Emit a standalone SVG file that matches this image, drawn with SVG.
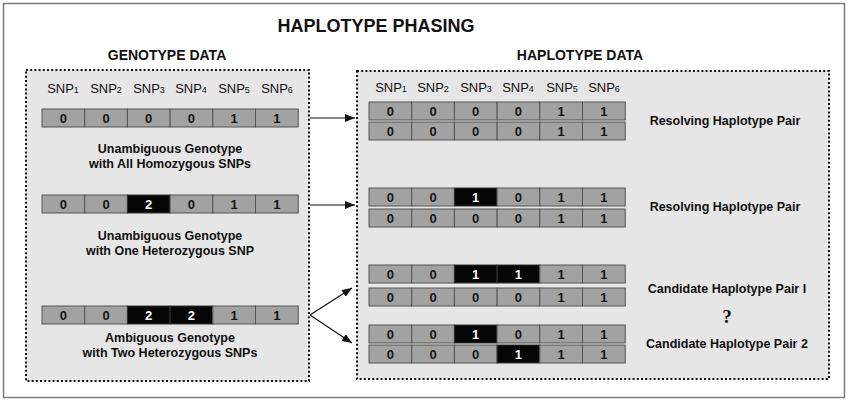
<svg xmlns="http://www.w3.org/2000/svg" width="850" height="401" viewBox="0 0 850 401">
<defs>
<style>
text{font-family:"Liberation Sans",Arial,sans-serif;fill:#111}
.title{font-size:18px;font-weight:bold;text-anchor:middle}
.head{font-size:14px;font-weight:bold;text-anchor:middle}
.snp{font-size:13px;text-anchor:middle}
.snp tspan{font-size:9px}
.lbl{font-size:12.5px;font-weight:bold;text-anchor:middle}
.panel{fill:#e6e6e6;stroke:#111;stroke-width:2;stroke-dasharray:2 2.2}
.c{fill:#a2a2a2;stroke:#555;stroke-width:1}
.k{fill:#050505;stroke:#333;stroke-width:1}
.v{font-size:13px;font-weight:bold;text-anchor:middle;fill:#151515}
.w{font-size:13px;font-weight:bold;text-anchor:middle;fill:#fff}
.q{font-family:"Liberation Serif","Times New Roman",serif;font-size:19px;font-weight:bold;text-anchor:middle}
.conn{stroke:#111;stroke-width:1.2;fill:none;marker-end:url(#ah)}
</style>
<marker id="ah" viewBox="0 0 10 8" refX="10" refY="4" markerWidth="10" markerHeight="8" markerUnits="userSpaceOnUse" orient="auto">
<path d="M0,0 L10,4 L0,8 Z" fill="#111"/>
</marker>
</defs>
<rect x="0" y="0" width="850" height="401" fill="#fff"/>
<rect id="frame" x="3.5" y="3.5" width="841" height="394" fill="#fff" stroke="#7a7a7a" stroke-width="1.5"/>
<text class="title" x="376" y="32">HAPLOTYPE PHASING</text>

<g id="genotype-panel">
<text class="head" x="167" y="60">GENOTYPE DATA</text>
<rect class="panel" x="26" y="70" width="283" height="311"/>
<text class="snp" x="63" y="93">SNP<tspan>1</tspan></text>
<text class="snp" x="106" y="93">SNP<tspan>2</tspan></text>
<text class="snp" x="149" y="93">SNP<tspan>3</tspan></text>
<text class="snp" x="191" y="93">SNP<tspan>4</tspan></text>
<text class="snp" x="234" y="93">SNP<tspan>5</tspan></text>
<text class="snp" x="277" y="93">SNP<tspan>6</tspan></text>
</g>

<g id="genotype1">
<rect class="c" x="42" y="109" width="42.7" height="18"/><rect class="c" x="84.7" y="109" width="42.7" height="18"/><rect class="c" x="127.4" y="109" width="42.7" height="18"/><rect class="c" x="170.1" y="109" width="42.7" height="18"/><rect class="c" x="212.8" y="109" width="42.7" height="18"/><rect class="c" x="255.5" y="109" width="42.7" height="18"/>
<text class="v" x="63.3" y="123">0</text><text class="v" x="106" y="123">0</text><text class="v" x="148.7" y="123">0</text><text class="v" x="191.4" y="123">0</text><text class="v" x="234.1" y="123">1</text><text class="v" x="276.8" y="123">1</text>
<text class="lbl" x="170" y="153">Unambiguous Genotype</text>
<text class="lbl" x="170" y="168">with All Homozygous SNPs</text>
</g>

<g id="genotype2">
<rect class="c" x="42" y="195" width="42.7" height="18"/><rect class="c" x="84.7" y="195" width="42.7" height="18"/><rect class="k" x="127.4" y="195" width="42.7" height="18"/><rect class="c" x="170.1" y="195" width="42.7" height="18"/><rect class="c" x="212.8" y="195" width="42.7" height="18"/><rect class="c" x="255.5" y="195" width="42.7" height="18"/>
<text class="v" x="63.3" y="209">0</text><text class="v" x="106" y="209">0</text><text class="w" x="148.7" y="209">2</text><text class="v" x="191.4" y="209">0</text><text class="v" x="234.1" y="209">1</text><text class="v" x="276.8" y="209">1</text>
<text class="lbl" x="170" y="240">Unambiguous Genotype</text>
<text class="lbl" x="170" y="255">with One Heterozygous SNP</text>
</g>

<g id="genotype3">
<rect class="c" x="42" y="306" width="42.7" height="18"/><rect class="c" x="84.7" y="306" width="42.7" height="18"/><rect class="k" x="127.4" y="306" width="42.7" height="18"/><rect class="k" x="170.1" y="306" width="42.7" height="18"/><rect class="c" x="212.8" y="306" width="42.7" height="18"/><rect class="c" x="255.5" y="306" width="42.7" height="18"/>
<text class="v" x="63.3" y="320">0</text><text class="v" x="106" y="320">0</text><text class="w" x="148.7" y="320">2</text><text class="w" x="191.4" y="320">2</text><text class="v" x="234.1" y="320">1</text><text class="v" x="276.8" y="320">1</text>
<text class="lbl" x="170" y="342">Ambiguous Genotype</text>
<text class="lbl" x="170" y="357">with Two Heterozygous SNPs</text>
</g>

<g id="haplotype-panel">
<text class="head" x="580" y="60">HAPLOTYPE DATA</text>
<rect class="panel" x="357" y="71" width="472" height="308"/>
<text class="snp" x="391" y="92">SNP<tspan>1</tspan></text>
<text class="snp" x="433" y="92">SNP<tspan>2</tspan></text>
<text class="snp" x="476" y="92">SNP<tspan>3</tspan></text>
<text class="snp" x="518" y="92">SNP<tspan>4</tspan></text>
<text class="snp" x="562" y="92">SNP<tspan>5</tspan></text>
<text class="snp" x="604" y="92">SNP<tspan>6</tspan></text>
</g>

<g id="haplotype-pair1">
<rect class="c" x="369" y="102" width="42.7" height="18"/><rect class="c" x="411.7" y="102" width="42.7" height="18"/><rect class="c" x="454.4" y="102" width="42.7" height="18"/><rect class="c" x="497.1" y="102" width="42.7" height="18"/><rect class="c" x="539.8" y="102" width="42.7" height="18"/><rect class="c" x="582.5" y="102" width="42.7" height="18"/>
<text class="v" x="390.3" y="116">0</text><text class="v" x="433" y="116">0</text><text class="v" x="475.7" y="116">0</text><text class="v" x="518.4" y="116">0</text><text class="v" x="561.1" y="116">1</text><text class="v" x="603.8" y="116">1</text>
<rect class="c" x="369" y="122" width="42.7" height="18"/><rect class="c" x="411.7" y="122" width="42.7" height="18"/><rect class="c" x="454.4" y="122" width="42.7" height="18"/><rect class="c" x="497.1" y="122" width="42.7" height="18"/><rect class="c" x="539.8" y="122" width="42.7" height="18"/><rect class="c" x="582.5" y="122" width="42.7" height="18"/>
<text class="v" x="390.3" y="136">0</text><text class="v" x="433" y="136">0</text><text class="v" x="475.7" y="136">0</text><text class="v" x="518.4" y="136">0</text><text class="v" x="561.1" y="136">1</text><text class="v" x="603.8" y="136">1</text>
<text class="lbl" x="725" y="125">Resolving Haplotype Pair</text>
</g>

<g id="haplotype-pair2">
<rect class="c" x="369" y="188" width="42.7" height="18"/><rect class="c" x="411.7" y="188" width="42.7" height="18"/><rect class="k" x="454.4" y="188" width="42.7" height="18"/><rect class="c" x="497.1" y="188" width="42.7" height="18"/><rect class="c" x="539.8" y="188" width="42.7" height="18"/><rect class="c" x="582.5" y="188" width="42.7" height="18"/>
<text class="v" x="390.3" y="202">0</text><text class="v" x="433" y="202">0</text><text class="w" x="475.7" y="202">1</text><text class="v" x="518.4" y="202">0</text><text class="v" x="561.1" y="202">1</text><text class="v" x="603.8" y="202">1</text>
<rect class="c" x="369" y="209" width="42.7" height="18"/><rect class="c" x="411.7" y="209" width="42.7" height="18"/><rect class="c" x="454.4" y="209" width="42.7" height="18"/><rect class="c" x="497.1" y="209" width="42.7" height="18"/><rect class="c" x="539.8" y="209" width="42.7" height="18"/><rect class="c" x="582.5" y="209" width="42.7" height="18"/>
<text class="v" x="390.3" y="223">0</text><text class="v" x="433" y="223">0</text><text class="v" x="475.7" y="223">0</text><text class="v" x="518.4" y="223">0</text><text class="v" x="561.1" y="223">1</text><text class="v" x="603.8" y="223">1</text>
<text class="lbl" x="725" y="211">Resolving Haplotype Pair</text>
</g>

<g id="haplotype-pair3">
<rect class="c" x="369" y="265" width="42.7" height="18"/><rect class="c" x="411.7" y="265" width="42.7" height="18"/><rect class="k" x="454.4" y="265" width="42.7" height="18"/><rect class="k" x="497.1" y="265" width="42.7" height="18"/><rect class="c" x="539.8" y="265" width="42.7" height="18"/><rect class="c" x="582.5" y="265" width="42.7" height="18"/>
<text class="v" x="390.3" y="279">0</text><text class="v" x="433" y="279">0</text><text class="w" x="475.7" y="279">1</text><text class="w" x="518.4" y="279">1</text><text class="v" x="561.1" y="279">1</text><text class="v" x="603.8" y="279">1</text>
<rect class="c" x="369" y="288" width="42.7" height="18"/><rect class="c" x="411.7" y="288" width="42.7" height="18"/><rect class="c" x="454.4" y="288" width="42.7" height="18"/><rect class="c" x="497.1" y="288" width="42.7" height="18"/><rect class="c" x="539.8" y="288" width="42.7" height="18"/><rect class="c" x="582.5" y="288" width="42.7" height="18"/>
<text class="v" x="390.3" y="302">0</text><text class="v" x="433" y="302">0</text><text class="v" x="475.7" y="302">0</text><text class="v" x="518.4" y="302">0</text><text class="v" x="561.1" y="302">1</text><text class="v" x="603.8" y="302">1</text>
<text class="lbl" x="727" y="293">Candidate Haplotype Pair I</text>
</g>

<text class="q" x="727" y="323">?</text>

<g id="haplotype-pair4">
<rect class="c" x="369" y="325" width="42.7" height="18"/><rect class="c" x="411.7" y="325" width="42.7" height="18"/><rect class="k" x="454.4" y="325" width="42.7" height="18"/><rect class="c" x="497.1" y="325" width="42.7" height="18"/><rect class="c" x="539.8" y="325" width="42.7" height="18"/><rect class="c" x="582.5" y="325" width="42.7" height="18"/>
<text class="v" x="390.3" y="339">0</text><text class="v" x="433" y="339">0</text><text class="w" x="475.7" y="339">1</text><text class="v" x="518.4" y="339">0</text><text class="v" x="561.1" y="339">1</text><text class="v" x="603.8" y="339">1</text>
<rect class="c" x="369" y="345" width="42.7" height="18"/><rect class="c" x="411.7" y="345" width="42.7" height="18"/><rect class="c" x="454.4" y="345" width="42.7" height="18"/><rect class="k" x="497.1" y="345" width="42.7" height="18"/><rect class="c" x="539.8" y="345" width="42.7" height="18"/><rect class="c" x="582.5" y="345" width="42.7" height="18"/>
<text class="v" x="390.3" y="359">0</text><text class="v" x="433" y="359">0</text><text class="v" x="475.7" y="359">0</text><text class="w" x="518.4" y="359">1</text><text class="v" x="561.1" y="359">1</text><text class="v" x="603.8" y="359">1</text>
<text class="lbl" x="727" y="348">Candidate Haplotype Pair 2</text>
</g>

<g id="connectors">
<line class="conn" x1="310" y1="118" x2="355" y2="118"/>
<line class="conn" x1="310" y1="205" x2="355" y2="205"/>
<line class="conn" x1="310" y1="315" x2="352" y2="288"/>
<line class="conn" x1="310" y1="315" x2="352" y2="343"/>
</g>
</svg>
